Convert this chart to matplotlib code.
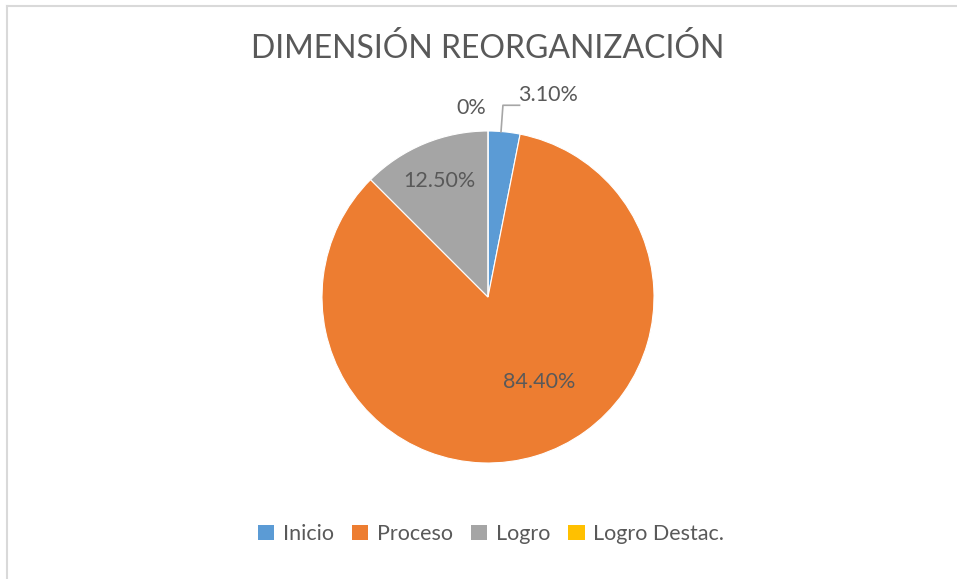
import numpy as np
import matplotlib.pyplot as plt
from matplotlib.patches import Patch
from matplotlib.lines import Line2D

categories = ["Inicio", "Proceso", "Logro", "Logro Destac."]
values = [3.1, 84.4, 12.5, 0.0]
label_texts = ["3.10%", "84.40%", "12.50%", "0%"]
colors = ["#5B9BD5", "#ED7D31", "#A5A5A5", "#FFC000"]

txt = "#595959"
plt.rcParams["font.family"] = ["Lato", "DejaVu Sans"]

W, H = 957, 579
fig = plt.figure(figsize=(W / 100, H / 100), dpi=100)

# outer chart border (only top and left are visible in the crop)
fig.add_artist(Line2D([7.5 / W, 7.5 / W], [0, 1 - 5.5 / H], transform=fig.transFigure,
                      color="#D9D9D9", lw=1.5))
fig.add_artist(Line2D([7.5 / W, 1], [1 - 5.5 / H, 1 - 5.5 / H], transform=fig.transFigure,
                      color="#D9D9D9", lw=1.5))

cx, cy, r = 488, 297, 166
ax = fig.add_axes([(cx - r) / W, (H - cy - r) / H, 2 * r / W, 2 * r / H])
wedges, _ = ax.pie(values, colors=colors, startangle=90, counterclock=False,
                   radius=1, wedgeprops=dict(edgecolor="white", linewidth=0.8))
ax.set_xlim(-1, 1)
ax.set_ylim(-1, 1)
ax.set_aspect("equal")
ax.axis("off")

# data label positions (best fit, as in the original)
label_pos = [(0.36, 1.215), (0.31, -0.51), (-0.29, 0.70), (-0.10, 1.14)]
for (x, y), t in zip(label_pos, label_texts):
    ax.text(x, y, t, ha="center", va="center", fontsize=15.5, color=txt, clip_on=False)

# leader line for the small Inicio slice
w0 = wedges[0]
mid = np.deg2rad((w0.theta1 + w0.theta2) / 2)
x0, y0 = 0.6 * np.cos(mid) + 0.02, np.sin(mid)
ax.plot([x0, 0.09, 0.19], [y0, 1.155, 1.155], color="#A6A6A6", lw=1.2, clip_on=False)

fig.text(488 / W, 1 - 48 / H, "DIMENSIÓN REORGANIZACIÓN", ha="center", va="center",
         fontsize=23, color=txt)

handles = [Patch(facecolor=c, edgecolor="none") for c in colors]
fig.legend(handles, categories, loc="center", bbox_to_anchor=(491 / W, 1 - 534 / H),
           ncol=4, frameon=False, fontsize=15.5, labelcolor=txt,
           handlelength=0.75, handleheight=0.75, handletextpad=0.4, columnspacing=0.85)

fig.savefig("out.png", dpi=100)
